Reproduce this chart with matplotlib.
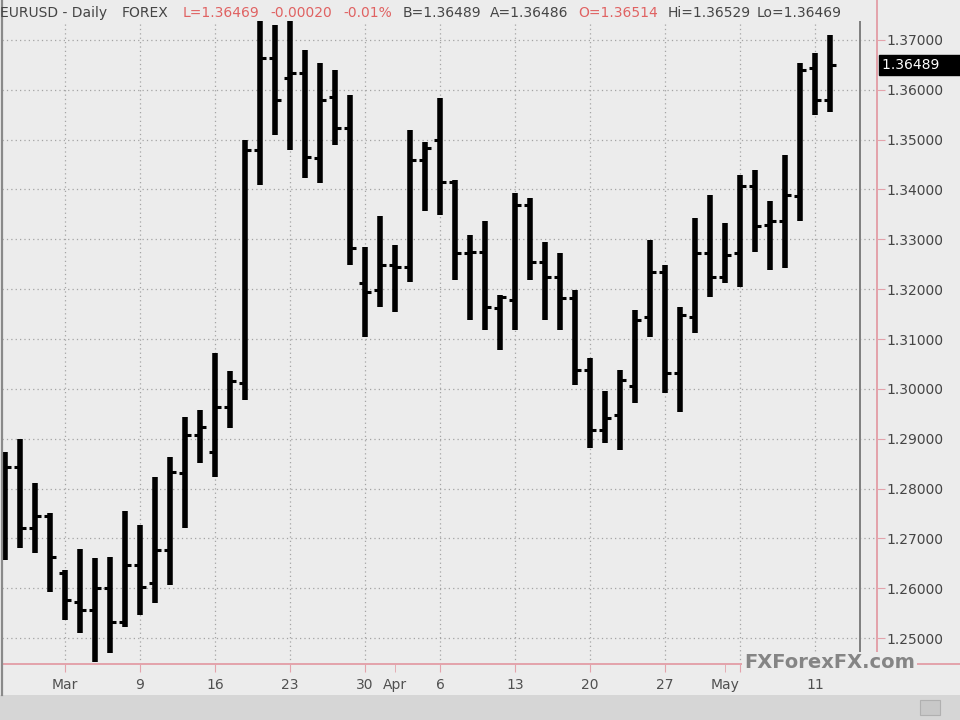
import matplotlib
matplotlib.use("Agg")
import matplotlib.pyplot as plt
import matplotlib.transforms as mtransforms
from matplotlib.lines import Line2D
from matplotlib.patches import Rectangle
import numpy as np
import pandas as pd

# EURUSD daily bars, 24 Feb 2009 .. 12 May 2009
start_date = "2009-02-24"
opens = [1.2690, 1.2843, 1.2721, 1.2744, 1.2630, 1.2573, 1.2557, 1.2600, 1.2533, 1.2647,
         1.2610, 1.2677, 1.2831, 1.2908, 1.2874, 1.2964, 1.3012, 1.3479, 1.3663, 1.3623,
         1.3633, 1.3463, 1.3586, 1.3523, 1.3212, 1.3198, 1.3249, 1.3245, 1.3459, 1.3499,
         1.3416, 1.3272, 1.3275, 1.3162, 1.3178, 1.3369, 1.3255, 1.3225, 1.3182, 1.3038,
         1.2918, 1.2948, 1.3005, 1.3145, 1.3235, 1.3031, 1.3145, 1.3272, 1.3225, 1.3272,
         1.3406, 1.3329, 1.3336, 1.3386, 1.3643, 1.3580]
highs = [1.2874, 1.2900, 1.2811, 1.2751, 1.2637, 1.2678, 1.2660, 1.2663, 1.2754, 1.2727,
         1.2824, 1.2864, 1.2944, 1.2958, 1.3071, 1.3035, 1.3499, 1.3737, 1.3730, 1.3737,
         1.3680, 1.3653, 1.3640, 1.3590, 1.3285, 1.3346, 1.3289, 1.3519, 1.3496, 1.3583,
         1.3419, 1.3309, 1.3336, 1.3188, 1.3392, 1.3382, 1.3295, 1.3272, 1.3198, 1.3061,
         1.2995, 1.3038, 1.3158, 1.3299, 1.3249, 1.3165, 1.3342, 1.3389, 1.3332, 1.3429,
         1.3439, 1.3376, 1.3469, 1.3653, 1.3673, 1.3710]
lows = [1.2657, 1.2681, 1.2671, 1.2593, 1.2537, 1.2511, 1.2453, 1.2470, 1.2523, 1.2547,
        1.2570, 1.2607, 1.2720, 1.2851, 1.2824, 1.2921, 1.2978, 1.3409, 1.3509, 1.3479,
        1.3423, 1.3413, 1.3489, 1.3249, 1.3105, 1.3165, 1.3155, 1.3215, 1.3356, 1.3349,
        1.3219, 1.3138, 1.3118, 1.3078, 1.3118, 1.3219, 1.3138, 1.3118, 1.3008, 1.2881,
        1.2891, 1.2878, 1.2971, 1.3105, 1.2991, 1.2954, 1.3112, 1.3185, 1.3212, 1.3205,
        1.3275, 1.3239, 1.3242, 1.3336, 1.3550, 1.3556]
closes = [1.2843, 1.2721, 1.2744, 1.2663, 1.2577, 1.2557, 1.2600, 1.2533, 1.2647, 1.2603,
          1.2677, 1.2834, 1.2908, 1.2924, 1.2964, 1.3015, 1.3479, 1.3663, 1.3580, 1.3633,
          1.3466, 1.3580, 1.3523, 1.3282, 1.3195, 1.3249, 1.3245, 1.3459, 1.3483, 1.3416,
          1.3272, 1.3275, 1.3165, 1.3185, 1.3369, 1.3255, 1.3225, 1.3182, 1.3038, 1.2918,
          1.2941, 1.3018, 1.3138, 1.3235, 1.3031, 1.3148, 1.3272, 1.3225, 1.3269, 1.3406,
          1.3326, 1.3336, 1.3389, 1.3640, 1.3580, 1.36489]

price_ticks = [1.25, 1.26, 1.27, 1.28, 1.29, 1.30, 1.31, 1.32, 1.33, 1.34, 1.35, 1.36, 1.37]
monday_labels = ["Mar", "9", "16", "23", "30", "6", "13", "20", "27", "", "11"]
month_labels = ["Apr", "May"]

header_parts = [
    ("EURUSD - Daily", "dark"), ("FOREX", "dark"), ("L=1.36469", "red"),
    ("-0.00020", "red"), ("-0.01%", "red"), ("B=1.36489", "dark"),
    ("A=1.36486", "dark"), ("O=1.36514", "red"), ("Hi=1.36529", "dark"),
    ("Lo=1.36469", "dark"),
]
header_x = [0, 122, 183, 270, 343, 403, 490, 578, 668, 757]

BG = "#ececec"
PINK = "#e3a3ab"
DARK = "#454545"
RED = "#e06262"

dates = pd.bdate_range(start_date, periods=len(closes))
x = np.arange(len(closes))

fig = plt.figure(figsize=(9.6, 7.2), dpi=100, facecolor=BG)
W, H = 960, 720
ax = fig.add_axes([2 / W, (H - 664) / H, (877 - 2) / W, (664 - 21) / H])
ax.set_facecolor(BG)

# bars
ax.vlines(x, lows, highs, color="black", lw=4.0, capstyle="butt", zorder=3)
ax.hlines(opens, x - 0.42, x, color="black", lw=2.2, zorder=3)
ax.hlines(closes, x, x + 0.42, color="black", lw=2.2, zorder=3)

ax.set_xlim(-0.2, 58.13)
ax.set_ylim(1.2448, 1.3738)

# x axis: Mondays get gridlines, month starts get extra labels
mondays = [i for i, d in enumerate(dates) if d.weekday() == 0]
month_starts = [i for i in range(1, len(dates)) if dates[i].month != dates[i - 1].month]
month_starts = [i for i in month_starts if dates[i].weekday() != 0]
ax.set_xticks(mondays)
ax.set_xticklabels(monday_labels)
ax.set_xticks(month_starts, minor=True)
ax.set_xticklabels(month_labels, minor=True)
ax.tick_params(axis="x", which="both", length=6, color=PINK, labelcolor="#505050",
               labelsize=10, pad=4)

ax.yaxis.tick_right()
ax.set_yticks(price_ticks)
ax.set_yticklabels([f"{p:.5f}" for p in price_ticks])
ax.tick_params(axis="y", length=6, color=PINK, labelcolor=DARK, labelsize=10, pad=1)

ax.grid(True, which="major", color="#a4a4a4", lw=0.9, linestyle=(0, (1, 2.5)))
ax.set_axisbelow(True)

for s in ["left", "top"]:
    ax.spines[s].set_visible(False)
for s in ["right", "bottom"]:
    ax.spines[s].set_color(PINK)
    ax.spines[s].set_linewidth(1.4)

# right margin line of the chart
ax.axvline(len(closes) + 1, ymin=0.015, ymax=1.0, color="#7f7f7f", lw=1.4, zorder=2)

# last price marker
trans = mtransforms.blended_transform_factory(ax.transAxes, ax.transData)
ax.text(1.006, closes[-1], f"{closes[-1]:.5f}     ", transform=trans, ha="left",
        va="center", color="white", fontsize=10, clip_on=False,
        bbox=dict(boxstyle="square,pad=0.22", fc="black", ec="black"), zorder=5)

# frame decorations
fig.add_artist(Line2D([877 / W, 877 / W], [(H - 664) / H, 1.0], color=PINK, lw=1.4))
fig.add_artist(Line2D([877 / W, 1.0], [(H - 664) / H, (H - 664) / H], color=PINK, lw=1.4))
fig.add_artist(Line2D([1.5 / W, 1.5 / W], [25 / H, 1.0], color="#8a8a8a", lw=1.6))
fig.add_artist(Rectangle((0, 0), 1, 25 / H, transform=fig.transFigure,
                         fc="#d6d6d6", ec="none"))
fig.add_artist(Rectangle((920 / W, 5 / H), 20 / W, 15 / H, transform=fig.transFigure,
                         fc="#c8c8c8", ec="#b0b0b0", lw=0.8))

# header line
for (txt, kind), px in zip(header_parts, header_x):
    fig.text(px / W, 1 - 13 / H, txt, ha="left", va="center", fontsize=10,
             color=RED if kind == "red" else DARK)

# watermark
fig.text(744 / W, 1 - 663 / H, "FXForexFX.com", ha="left", va="center", fontsize=14,
         fontweight="bold", color="#858585",
         bbox=dict(boxstyle="square,pad=0.1", fc=BG, ec="none"))

fig.savefig("out.png", dpi=100, facecolor=BG)
